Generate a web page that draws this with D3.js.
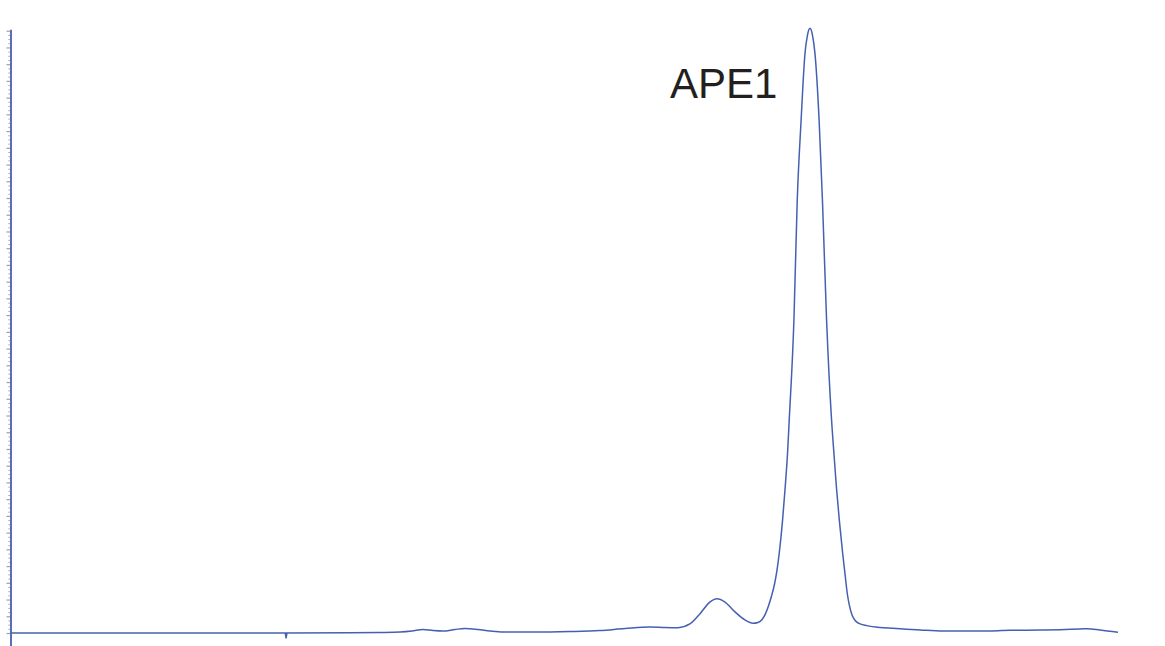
<!DOCTYPE html>
<html>
<head>
<meta charset="utf-8">
<script src="https://cdn.jsdelivr.net/npm/d3@7/dist/d3.min.js"></script>
<style>
  html, body { margin: 0; padding: 0; background: #fff; }
  svg { display: block; }
</style>
</head>
<body>
<svg id="chart" width="1165" height="646"></svg>
<script>
// Elution time (arbitrary min) and absorbance (arbitrary units)
const times = [0, 3.22, 6.83, 9.94, 12.25, 13.33, 14.06, 14.49, 14.89, 15.25, 15.61, 16.04, 16.40, 16.87, 17.31, 17.78,
  18.75, 20.20, 21.28, 22.19, 23.09, 23.63, 24.10, 24.53, 24.89, 25.25, 25.51, 25.80, 26.16, 26.52, 26.81,
  26.99, 27.14, 27.26, 27.37, 27.48, 27.59, 27.68, 27.76, 27.88, 27.975, 28.06, 28.12, 28.29, 28.41, 28.55, 28.69, 28.78,
  28.87, 28.96, 29.05, 29.20, 29.32, 29.47, 29.65, 29.74, 29.825, 29.93, 30.05, 30.14, 30.22, 30.30, 30.39, 30.50, 30.64,
  30.93, 31.40, 31.87, 32.85, 33.68, 35.01, 36.10, 37.18, 37.90, 38.63, 38.88, 39.35, 40.00];
const absorb = [0, 0, 0, 0, 0.01, 0.03, 0.06, 0.12, 0.21, 0.15, 0.12, 0.21, 0.27, 0.21, 0.12, 0.06,
  0.06, 0.09, 0.15, 0.27, 0.36, 0.33, 0.32, 0.54, 1.14, 1.85, 2.05, 1.85, 1.26, 0.78, 0.58,
  0.63, 0.81, 1.14, 1.61, 2.21, 2.93, 3.77, 4.78, 6.75, 8.73, 10.76, 12.73, 18.71, 25.88, 30.66, 34.65, 35.74,
  36.15, 35.74, 34.65, 30.66, 25.88, 18.71, 12.73, 10.64, 8.73, 6.75, 4.78, 3.47, 2.33, 1.61, 1.08, 0.75, 0.57,
  0.44, 0.33, 0.28, 0.18, 0.12, 0.12, 0.16, 0.18, 0.20, 0.24, 0.26, 0.18, 0.04];
const injectionTime = [9.94];
const majorTicks = d3.range(0, 37, 1);
const minorTicks = d3.range(0, 36.01, 0.25).filter(v => Math.abs(v - Math.round(v)) > 1e-6);
const peakLabel = "APE1";

const svg = d3.select("#chart");
const x = d3.scaleLinear().domain([0, 40]).range([11, 1118]);
const y = d3.scaleLinear().domain([0, 36]).range([633, 633 - 36 * 16.73]);

const blue = "#4560b0";

// minor ticks
svg.append("g")
  .attr("transform", "translate(10,0)")
  .call(d3.axisLeft(y).tickValues(minorTicks).tickSize(1.6).tickFormat(""))
  .call(g => g.select(".domain").remove())
  .call(g => g.selectAll("line").attr("stroke", "#a8a8a8").attr("stroke-width", 1));

// major ticks
svg.append("g")
  .attr("transform", "translate(10,0)")
  .call(d3.axisLeft(y).tickValues(majorTicks).tickSize(3.5).tickFormat(""))
  .call(g => g.select(".domain").remove())
  .call(g => g.selectAll("line").attr("stroke", "#a0a0a0").attr("stroke-width", 1.2));

// vertical axis line
svg.append("line")
  .attr("x1", 11).attr("x2", 11)
  .attr("y1", y(36) - 1).attr("y2", 646)
  .attr("stroke", blue).attr("stroke-width", 1.8);

const data = times.map((t, i) => ({ t, v: absorb[i] }));
const line = d3.line().x(d => x(d.t)).y(d => y(d.v)).curve(d3.curveMonotoneX);

svg.append("path")
  .datum(data)
  .attr("d", line)
  .attr("fill", "none")
  .attr("stroke", blue)
  .attr("stroke-width", 1.5);

// injection marker
svg.selectAll(".inj").data(injectionTime).enter().append("path")
  .attr("class", "inj")
  .attr("d", d => `M${x(d) - 1.6},${y(0)} L${x(d) + 1.6},${y(0)} L${x(d) + 0.7},${y(0) + 5.5} L${x(d) - 0.7},${y(0) + 5.5} Z`)
  .attr("fill", blue);

svg.append("text")
  .attr("x", 670)
  .attr("y", 98)
  .attr("font-family", "Liberation Sans, Arial, sans-serif")
  .attr("font-size", 42)
  .attr("fill", "#231f20")
  .text(peakLabel);
</script>
</body>
</html>
